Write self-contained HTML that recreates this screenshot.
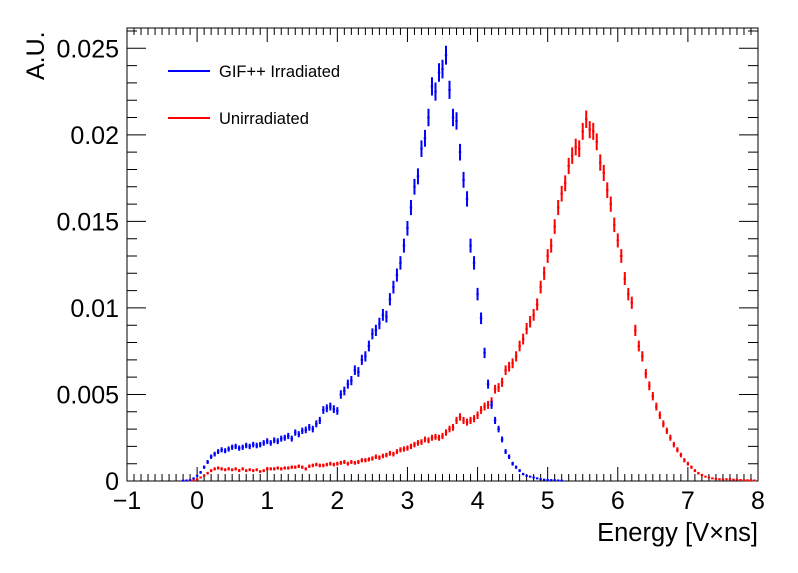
<!DOCTYPE html>
<html><head><meta charset="utf-8"><style>
body{margin:0;background:#fff;}
svg{display:block;font-family:"Liberation Sans",Arial,sans-serif;}
</style></head><body>
<svg id="chart" width="798" height="573" viewBox="0 0 798 573" xmlns="http://www.w3.org/2000/svg">
<rect width="798" height="573" fill="#fff"/>
<g id="axes"></g>
<g id="marks"></g>
<text transform="translate(44,80) rotate(-90)" font-size="25" text-anchor="start">A.U.</text>
<text x="758" y="541" font-size="25.5" text-anchor="end">Energy [V×ns]</text>
<g>
<g><line x1="168" y1="71" x2="210" y2="71" stroke="#0000ff" stroke-width="2"/><text x="219" y="77" font-size="16.5">GIF++ Irradiated</text></g>
<g><line x1="168" y1="118" x2="210" y2="118" stroke="#ff0000" stroke-width="2"/><text x="219" y="124" font-size="16.5">Unirradiated</text></g>
</g>
</svg>
<script>
const binWidth = 0.05;
const blueStart = -0.2;
const blueValues = [0.02,0.03,0.05,0.15,0.3,0.5,0.8,1.1,1.4,1.55,1.7,1.8,1.75,1.85,1.95,2.0,1.9,1.95,2.05,2.0,2.1,2.05,2.1,2.2,2.3,2.2,2.35,2.3,2.45,2.5,2.6,2.45,2.8,2.7,2.9,2.95,3.1,3.0,3.3,3.5,4.1,4.2,4.3,4.15,4.05,5.0,5.2,5.6,5.8,6.4,6.3,7.0,7.2,7.8,8.5,8.7,9.1,9.6,9.5,10.5,11.2,11.9,12.6,13.6,14.6,15.8,17.0,17.6,19.2,19.8,21.0,22.8,22.5,23.6,23.8,24.6,22.6,21.0,20.8,19.0,17.4,16.3,13.6,12.6,10.8,9.4,7.4,5.6,4.4,3.5,3.0,2.4,1.7,1.4,1.0,0.8,0.6,0.4,0.3,0.25,0.2,0.15,0.1,0.08,0.06,0.05,0.04,0.03,0.02];
const redStart = -0.15;
const redValues = [0.02,0.03,0.05,0.1,0.2,0.3,0.45,0.6,0.7,0.75,0.7,0.65,0.7,0.65,0.7,0.6,0.7,0.6,0.65,0.6,0.65,0.55,0.6,0.7,0.7,0.7,0.75,0.7,0.75,0.75,0.8,0.8,0.85,0.8,0.7,0.85,0.9,0.95,0.9,0.9,0.95,1.0,0.95,1.0,1.05,1.1,1.0,1.1,1.05,1.1,1.2,1.2,1.25,1.3,1.4,1.35,1.45,1.5,1.6,1.55,1.7,1.8,1.85,1.9,2.0,2.1,2.2,2.25,2.4,2.35,2.5,2.55,2.5,2.6,2.8,3.0,3.1,3.5,3.7,3.5,3.4,3.5,3.6,3.8,4.1,4.3,4.4,4.6,5.3,5.4,5.7,6.4,6.6,6.8,7.2,7.8,8.2,8.8,9.2,9.6,10.2,11.2,12.0,13.0,13.6,14.7,15.8,16.6,17.2,18.2,18.8,19.3,19.2,20.2,20.9,20.3,20.2,19.6,18.4,17.8,16.8,16.0,14.8,13.9,13.0,11.7,10.8,10.3,8.7,7.8,7.2,6.2,5.5,4.9,4.3,3.8,3.3,2.9,2.5,2.1,1.8,1.5,1.2,1.0,0.8,0.6,0.45,0.35,0.25,0.2,0.15,0.12,0.1,0.1,0.1,0.1,0.08,0.08,0.06,0.05,0.04,0.04,0.03];
const xTickLabels = ["−1","0","1","2","3","4","5","6","7","8"];
const yTickValues = [0,0.005,0.01,0.015,0.02,0.025];
const yTickLabels = ["0","0.005","0.01","0.015","0.02","0.025"];

const NS="http://www.w3.org/2000/svg";
const L=127,R=758,T=28,B=481;
const xMin=-1,xMax=8,yMin=0,yMax=0.025*(B-T)/(B-48.3);
const sx=v=>L+(v-xMin)/(xMax-xMin)*(R-L);
const sy=v=>B-(v-yMin)/(yMax-yMin)*(B-T);
function mk(tag,attrs,parent){const e=document.createElementNS(NS,tag);for(const k in attrs)e.setAttribute(k,attrs[k]);parent.appendChild(e);return e;}
const axes=document.getElementById('axes');
const frame=mk('rect',{x:L,y:T,width:R-L,height:B-T,fill:'none',stroke:'#000','stroke-width':1},axes);


let tp='';
for(let i=0;i<=90;i++){const v=xMin+i*0.1;const x=sx(v);const maj=i%10===0;const len=maj?14:7;
 tp+=`M${x},${B}V${B-len}M${x},${T}V${T+len}`;}
const yStep=0.001;
for(let i=0;i*yStep<=yMax+1e-9;i++){const y=sy(i*yStep);const maj=i%5===0;const len=maj?19:10;
 tp+=`M${L},${y}H${L+len}M${R},${y}H${R-len}`;}
const ticks=mk('path',{d:tp,stroke:'#000','stroke-width':1,fill:'none'},axes);


xTickLabels.forEach((s,i)=>{const t=mk('text',{x:sx(xMin+i),y:509,'font-size':25,'text-anchor':'middle'},axes);t.textContent=s;
 
 });
yTickValues.forEach((v,i)=>{const t=mk('text',{x:119,y:sy(v)+9,'font-size':25,'text-anchor':'end'},axes);t.textContent=yTickLabels[i];
 
 });
const marks=document.getElementById('marks');
function drawSeries(start,vals,color,name){
 const g=mk('g',{},marks);
 
 
 let d='';
 vals.forEach((v,i)=>{const xc=start+i*binWidth;const val=v*1e-3;const err=0.11*Math.sqrt(v)*1e-3;
  const x=sx(xc),y=sy(val);const hw=(sx(binWidth)-sx(0))/2*0.7;
  d+=`M${x-hw},${y}H${x+hw}M${x},${sy(val+err)}V${sy(Math.max(0,val-err))}`;});
 mk('path',{d:d,stroke:color,'stroke-width':2,fill:'none'},g);
}
drawSeries(redStart,redValues,'#ff0000','series-unirradiated');
drawSeries(blueStart,blueValues,'#0000ff','series-irradiated');
</script>
</body></html>
